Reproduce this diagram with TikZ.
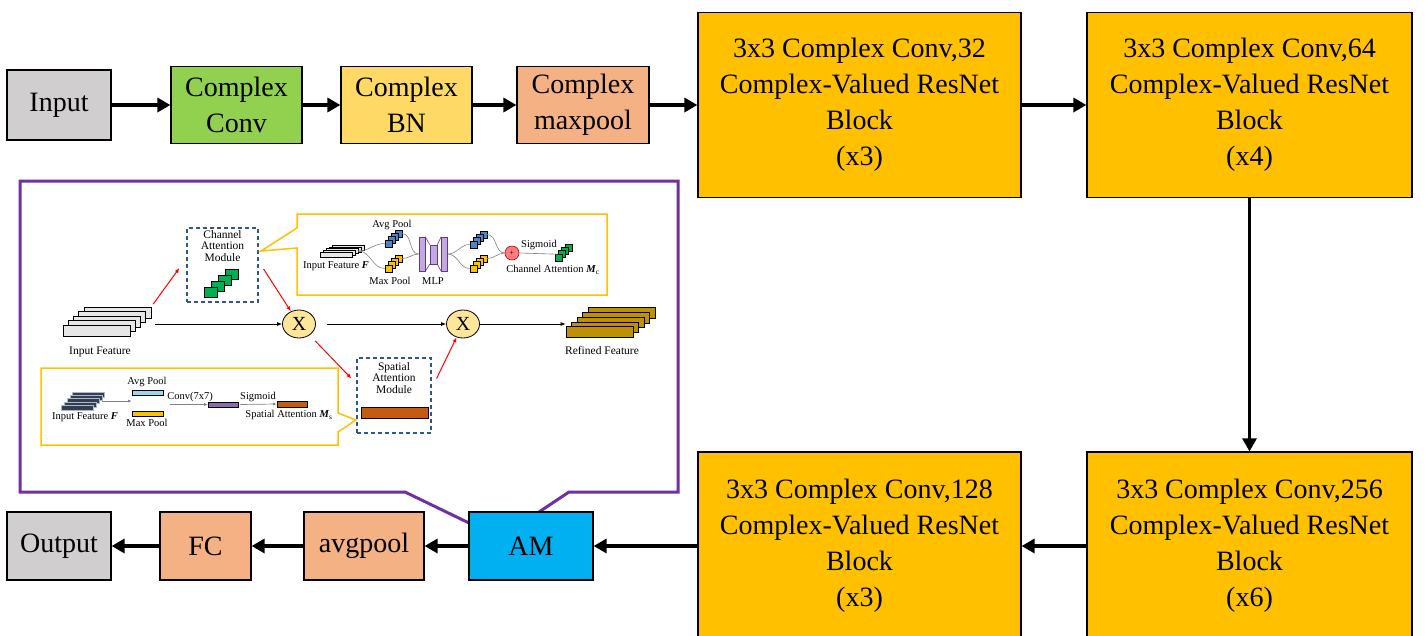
\documentclass[tikz,border=0pt]{standalone}
\usepackage{fontspec}
\setmainfont{Liberation Serif}
\usetikzlibrary{arrows.meta,shapes.geometric}

\definecolor{ingray}{HTML}{D0CECE}
\definecolor{convgreen}{HTML}{92D050}
\definecolor{bnyellow}{HTML}{FFD966}
\definecolor{poolsalmon}{HTML}{F4B183}
\definecolor{blockorange}{HTML}{FFC000}
\definecolor{amblue}{HTML}{00B0F0}
\definecolor{callpurple}{HTML}{7030A0}
\definecolor{dashblue}{HTML}{2F5597}
\definecolor{slabgray}{HTML}{E7E6E6}
\definecolor{refgold}{HTML}{BF9000}
\definecolor{darkslab}{HTML}{333F50}
\definecolor{slabedge}{HTML}{ADB9CA}
\definecolor{cubegreen}{HTML}{00B050}
\definecolor{cubeblue}{HTML}{4A86C8}
\definecolor{cubeyellow}{HTML}{FFC000}
\definecolor{mlppurple}{HTML}{C3A8E2}
\definecolor{mlpdark}{HTML}{5F3B85}
\definecolor{pluspink}{HTML}{FF7C80}
\definecolor{plusred}{HTML}{C00000}
\definecolor{multyellow}{HTML}{FFE699}
\definecolor{barblue}{HTML}{9DD5F0}
\definecolor{barpurple}{HTML}{8C6BB1}
\definecolor{barbrown}{HTML}{C55A11}

\tikzset{
  layer/.style={draw, line width=1.2pt, inner sep=0pt, align=center,
    font=\fontsize{28}{36}\selectfont},
  resblock/.style={layer, fill=blockorange, minimum width=323pt, minimum height=185pt},
  flow/.style={line width=4pt, -{Triangle[length=13pt,width=14pt]}},
  slab/.style={draw, line width=0.8pt, inner sep=0pt, minimum width=67pt, minimum height=11pt},
  thinslab/.style={draw, line width=0.5pt, inner sep=0pt, minimum width=32pt, minimum height=5pt},
  cube/.style={draw, line width=0.6pt, inner sep=0pt, minimum size=7pt},
  bar/.style={draw, line width=0.6pt, inner sep=0pt, minimum width=31pt, minimum height=5pt},
  mlpbar/.style={draw=mlpdark, fill=mlppurple, line width=0.6pt, inner sep=0pt},
  modbox/.style={draw=dashblue, line width=1.2pt, dash pattern=on 4pt off 3pt, inner sep=0pt},
  mult/.style={ellipse, draw, line width=0.8pt, fill=multyellow, inner sep=0pt,
    minimum width=33pt, minimum height=28pt, font=\fontsize{20}{20}\selectfont},
  callout/.style={draw=blockorange, line width=1.5pt},
  lab/.style={inner sep=0pt, align=center, font=\fontsize{11.5}{11.7}\selectfont},
  smalllab/.style={inner sep=0pt, font=\fontsize{10.5}{11}\selectfont},
  fwd/.style={line width=0.8pt, -{Latex[length=5pt,width=4pt]}},
  redfwd/.style={red, line width=1pt, -{Latex[length=5pt,width=4pt]}},
  wire/.style={draw=gray, line width=0.6pt},
  grayfwd/.style={gray, line width=0.7pt, -{Latex[length=3.5pt,width=3pt]}},
}

\begin{document}
\begin{tikzpicture}[x=1pt,y=-1pt]
  \useasboundingbox (0,0) rectangle (1427,635);

  % main chain
  \node[layer, fill=ingray, minimum width=104pt, minimum height=70pt] (input) at (59,105) {Input};
  \node[layer, fill=convgreen, minimum width=131pt, minimum height=77pt] (cconv) at (236.5,105) {Complex\\Conv};
  \node[layer, fill=bnyellow, minimum width=131pt, minimum height=77pt] (cbn) at (406.5,105) {Complex\\BN};
  \node[layer, fill=poolsalmon, minimum width=132pt, minimum height=77pt] (cpool) at (583,105) {Complex\\maxpool};
  \node[resblock] (blk32) at (859.5,105) {3x3 Complex Conv,32\\Complex-Valued ResNet\\Block\\(x3)};
  \node[resblock, minimum width=325pt] (blk64) at (1249.5,105) {3x3 Complex Conv,64\\Complex-Valued ResNet\\Block\\(x4)};
  \node[resblock, minimum width=325pt, minimum height=188pt] (blk256) at (1249.5,546) {3x3 Complex Conv,256\\Complex-Valued ResNet\\Block\\(x6)};
  \node[resblock, minimum height=188pt] (blk128) at (859.5,546) {3x3 Complex Conv,128\\Complex-Valued ResNet\\Block\\(x3)};

  % callout of the attention module
  \draw[callpurple, line width=3pt] (20,181) -- (678,181) -- (678,492) -- (569,492)
    -- (500,538) -- (405,492) -- (20,492) -- cycle;

  \node[layer, fill=ingray, minimum width=104pt, minimum height=68pt] (output) at (59,546) {Output};
  \node[layer, fill=poolsalmon, minimum width=91pt, minimum height=68pt] (fc) at (205.5,546) {FC};
  \node[layer, fill=poolsalmon, minimum width=120pt, minimum height=68pt] (avgpool) at (364,546) {avgpool};
  \node[layer, fill=amblue, minimum width=124pt, minimum height=68pt] (am) at (531,546) {AM};

  \draw[flow] (input) -- (cconv);
  \draw[flow] (cconv) -- (cbn);
  \draw[flow] (cbn) -- (cpool);
  \draw[flow] (cpool) -- (blk32);
  \draw[flow] (blk32) -- (blk64);
  \draw[flow, line width=3pt] (blk64) -- (blk256);
  \draw[flow] (blk256) -- (blk128);
  \draw[flow] (blk128) -- (am);
  \draw[flow] (am) -- (avgpool);
  \draw[flow] (avgpool) -- (fc);
  \draw[flow] (fc) -- (output);

  % attention module: main path
  \foreach \i in {4,3,2,1,0}
    \node[slab, fill=slabgray] (in\i) at (96.5+5.25*\i, 330.5-4.5*\i) {};
  \node[lab] (inlab) at (100,352) {Input Feature};

  \node[modbox, minimum width=71pt, minimum height=74pt] (cam) at (222.5,265) {};
  \node[lab] (camlab) at (222.5,246) {Channel\\Attention\\Module};
  \foreach \i in {3,2,1,0}
    \node[cube, fill=cubegreen, minimum width=13pt, minimum height=10pt] (cg\i) at (210.5+7*\i, 292-6*\i) {};

  \node[mult] (x1) at (299,324) {X};
  \node[mult] (x2) at (463,324) {X};

  \foreach \i in {4,3,2,1,0}
    \node[slab, fill=refgold, minimum height=10.5pt] (rf\i) at (599.5+5.5*\i, 332-4.75*\i) {};
  \node[lab] (rflab) at (602,351) {Refined Feature};

  \node[modbox, minimum width=74pt, minimum height=75pt] (sam) at (394,395.5) {};
  \node[lab] (samlab) at (394,378) {Spatial\\Attention\\Module};
  \node[bar, fill=barbrown, minimum width=67pt, minimum height=11pt] (sambar) at (394.5,412.5) {};

  \draw[fwd, shorten <=4pt] (in4.east |- x1) -- (x1);
  \draw[fwd, shorten <=11pt] (x1) -- (x2);
  \draw[fwd] (x2) -- (rf0.west |- x2);
  \draw[redfwd, shorten <=3pt] (in4.north east) -- ([xshift=-7pt,yshift=-3pt]cam.west);
  \draw[redfwd] ([xshift=5pt,yshift=-4pt]cam.east) -- (x1);
  \draw[redfwd, shorten <=8pt] (x1) -- ([xshift=-5pt,yshift=17pt]sam.west);
  \draw[redfwd] ([xshift=5pt,yshift=17pt]sam.east) -- (x2);

  % channel attention detail
  \draw[callout] (297,214) -- (607,214) -- (607,295) -- (297,295) -- (297,248) -- (261,251) -- (297,228) -- cycle;
  \foreach \i in {4,3,2,1,0}
    \node[thinslab, fill=slabgray] (cf\i) at (336+3*\i, 254.5-1.75*\i) {};
  \node[smalllab] (cflab) at (336,266) {Input Feature \textbf{\textit{F}}};
  \node[smalllab] (avglab) at (392,225) {Avg Pool};
  \node[smalllab] (maxlab) at (390,281) {Max Pool};
  \foreach \i in {3,2,1,0} {
    \node[cube, fill=cubeblue] (ca\i) at (388.5+3.3*\i, 243.5-3.3*\i) {};
    \node[cube, fill=cubeyellow] (cm\i) at (388.5+3.3*\i, 268.5-3.3*\i) {};
  }
  \node[mlpbar, minimum width=6pt, minimum height=34pt] (mlpl) at (422,254) {};
  \node[mlpbar, minimum width=7pt, minimum height=19pt] (mlpm) at (433.5,254.5) {};
  \node[mlpbar, minimum width=6pt, minimum height=34pt] (mlpr) at (444.5,254) {};
  \draw[mlpdark, line width=0.6pt] (mlpl.north east) -- (mlpm.north west)
    (mlpl.south east) -- (mlpm.south west)
    (mlpm.north east) -- (mlpr.north west)
    (mlpm.south east) -- (mlpr.south west);
  \node[smalllab] (mlplab) at (433,281) {MLP};
  \foreach \i in {3,2,1,0} {
    \node[cube, fill=cubeblue] (cb\i) at (473.5+3.3*\i, 244.5-3.3*\i) {};
    \node[cube, fill=cubeyellow] (cy\i) at (473.5+3.3*\i, 268.5-3.3*\i) {};
  }
  \node[circle, draw=plusred, fill=pluspink, line width=0.6pt, inner sep=0pt, minimum size=14pt,
    font=\fontsize{8}{8}\selectfont] (plus) at (512,253) {+};
  \foreach \i in {3,2,1,0}
    \node[cube, fill=cubegreen] (cgc\i) at (558.5+3.3*\i, 257.5-3.3*\i) {};
  \node[smalllab] (siglab) at (539,245) {Sigmoid};
  \node[smalllab] (calab) at (553,270) {Channel Attention \textbf{\textit{M}}\textsubscript{c}};

  \draw[wire] (cf2.east) to[out=0,in=180] (ca0.west);
  \draw[wire] (cf2.east) to[out=0,in=180] (cm0.west);
  \draw[wire] (ca3.east) to[out=0,in=180] (mlpl.west);
  \draw[wire] (cm3.east) to[out=0,in=180] (mlpl.west);
  \draw[wire] (mlpr.east) to[out=0,in=180] (cb0.west);
  \draw[wire] (mlpr.east) to[out=0,in=180] (cy0.west);
  \draw[wire] (cb3.east) to[out=0,in=180] (plus.west);
  \draw[wire] (cy3.east) to[out=0,in=180] (plus.west);
  \draw[wire] (plus.east) -- (cgc1.west);

  % spatial attention detail
  \draw[callout] (41,368) -- (338,368) -- (338,413) -- (356,420) -- (338,432) -- (338,445) -- (41,445) -- cycle;
  \foreach \i in {4,3,2,1,0}
    \node[thinslab, draw=slabedge, fill=darkslab] (sf\i) at (77.5+2.75*\i, 407.5-3.25*\i) {};
  \node[smalllab] (sflab) at (85,417) {Input Feature \textbf{\textit{F}}};
  \node[bar, fill=barblue] (sbavg) at (147.5,392.5) {};
  \node[bar, fill=cubeyellow] (sbmax) at (147.5,413.5) {};
  \node[smalllab] (savglab) at (147,382) {Avg Pool};
  \node[smalllab] (smaxlab) at (147,423) {Max Pool};
  \node[bar, fill=barpurple, minimum width=30pt] (sbconv) at (223,404.5) {};
  \node[bar, fill=barbrown, minimum width=30pt, minimum height=6pt] (sbout) at (292,404) {};
  \node[smalllab] (convlab) at (190,397) {Conv(7x7)};
  \node[smalllab] (ssiglab) at (258,397) {Sigmoid};
  \node[smalllab] (salab) at (289,415) {Spatial Attention \textbf{\textit{M}}\textsubscript{s}};
  \coordinate (convin) at (170,404.5);

  \draw[grayfwd, shorten <=3pt] (sf2.east) -- (sf2.east -| sbavg.west);
  \draw[grayfwd] (convin) -- (sbconv.west);
  \draw[grayfwd, shorten <=2pt] (sbconv.east) -- (sbout.west);
\end{tikzpicture}
\end{document}
